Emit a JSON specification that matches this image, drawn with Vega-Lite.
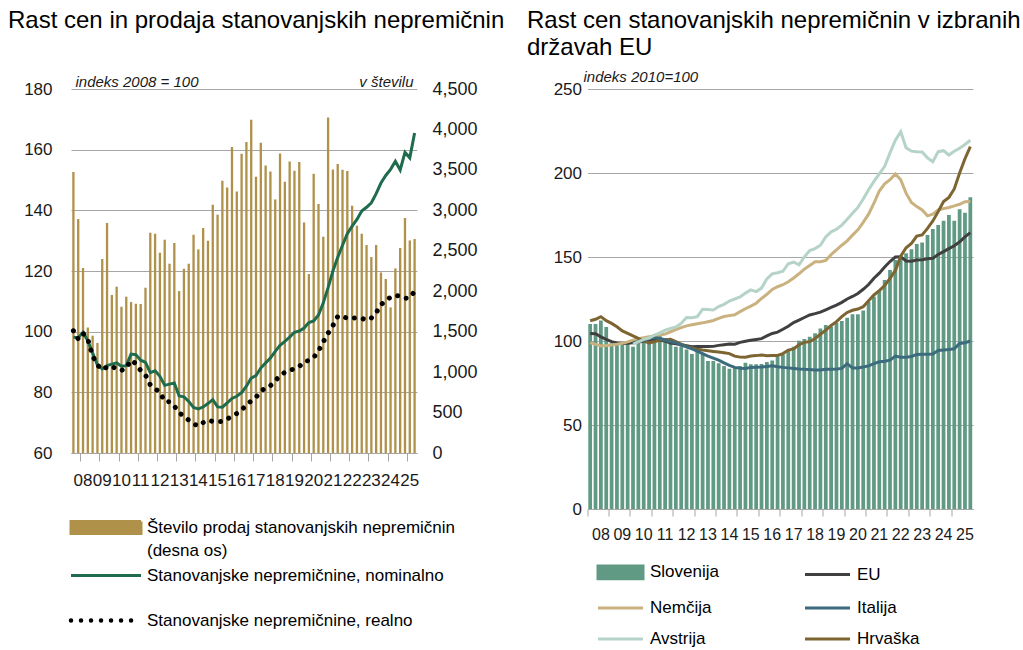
{
  "$schema": "https://vega.github.io/schema/vega-lite/v6.json",
  "padding": {"left": 8, "top": 8, "right": 0, "bottom": 0},
  "background": "white",
  "bounds": "flush",
  "spacing": 170.5,
  "config": {
    "font": "Liberation Sans",
    "view": {"stroke": null},
    "axis": {"labelFont": "Liberation Sans", "titleFont": "Liberation Sans", "labelColor": "#1a1a1a", "titleColor": "#1a1a1a", "titleFontWeight": "normal", "gridColor": "#a6a6a6", "gridWidth": 1, "domainColor": "#a6a6a6", "tickColor": "#a6a6a6"},
    "title": {"font": "Liberation Sans", "fontSize": 24, "fontWeight": "normal", "color": "#000000", "anchor": "start", "frame": "group"},
    "legend": {"labelFont": "Liberation Sans", "labelColor": "#000000", "labelFontSize": 17, "labelLimit": 500, "padding": 0}
  },
  "resolve": {"scale": {"color": "independent"}, "legend": {"color": "independent"}},
  "datasets": {
    "left": [
      {"q":"2008Q1","prodaja":3473,"nominalno":98.2,"realno":100.3},
      {"q":"2008Q2","prodaja":2892,"nominalno":98.0,"realno":97.6},
      {"q":"2008Q3","prodaja":2287,"nominalno":99.8,"realno":99.5},
      {"q":"2008Q4","prodaja":1550,"nominalno":97.0,"realno":97.5},
      {"q":"2009Q1","prodaja":1450,"nominalno":93.0,"realno":92},
      {"q":"2009Q2","prodaja":1360,"nominalno":89.0,"realno":89},
      {"q":"2009Q3","prodaja":2398,"nominalno":87.7,"realno":87.5},
      {"q":"2009Q4","prodaja":2843,"nominalno":88.8,"realno":88.3},
      {"q":"2010Q1","prodaja":1953,"nominalno":89.3,"realno":88.7},
      {"q":"2010Q2","prodaja":2056,"nominalno":89.7,"realno":87.5},
      {"q":"2010Q3","prodaja":1808,"nominalno":88.6,"realno":87.2},
      {"q":"2010Q4","prodaja":1932,"nominalno":88.8,"realno":88},
      {"q":"2011Q1","prodaja":1866,"nominalno":92.6,"realno":90.6},
      {"q":"2011Q2","prodaja":1845,"nominalno":92.4,"realno":89.5},
      {"q":"2011Q3","prodaja":1842,"nominalno":90.6,"realno":87.2},
      {"q":"2011Q4","prodaja":2043,"nominalno":89.9,"realno":85.7},
      {"q":"2012Q1","prodaja":2723,"nominalno":86.5,"realno":82.5},
      {"q":"2012Q2","prodaja":2711,"nominalno":87.1,"realno":81.2},
      {"q":"2012Q3","prodaja":2476,"nominalno":85.3,"realno":80},
      {"q":"2012Q4","prodaja":2637,"nominalno":82.3,"realno":77},
      {"q":"2013Q1","prodaja":2340,"nominalno":82.7,"realno":76.9},
      {"q":"2013Q2","prodaja":2596,"nominalno":83.1,"realno":75.5},
      {"q":"2013Q3","prodaja":2002,"nominalno":78.8,"realno":73.2},
      {"q":"2013Q4","prodaja":2278,"nominalno":78.5,"realno":72.2},
      {"q":"2014Q1","prodaja":2340,"nominalno":77.0,"realno":70.8},
      {"q":"2014Q2","prodaja":2698,"nominalno":75.0,"realno":69.6},
      {"q":"2014Q3","prodaja":2517,"nominalno":74.5,"realno":68.9},
      {"q":"2014Q4","prodaja":2781,"nominalno":75.2,"realno":70},
      {"q":"2015Q1","prodaja":2624,"nominalno":76.3,"realno":70.8},
      {"q":"2015Q2","prodaja":3069,"nominalno":77.6,"realno":70.4},
      {"q":"2015Q3","prodaja":2946,"nominalno":75.2,"realno":70.3},
      {"q":"2015Q4","prodaja":3366,"nominalno":75.1,"realno":70.4},
      {"q":"2016Q1","prodaja":3283,"nominalno":76.5,"realno":71.2},
      {"q":"2016Q2","prodaja":3782,"nominalno":78.0,"realno":72.2},
      {"q":"2016Q3","prodaja":3234,"nominalno":78.7,"realno":73},
      {"q":"2016Q4","prodaja":3700,"nominalno":79.9,"realno":74.2},
      {"q":"2017Q1","prodaja":3844,"nominalno":82.0,"realno":75.8},
      {"q":"2017Q2","prodaja":4120,"nominalno":84.7,"realno":77.2},
      {"q":"2017Q3","prodaja":3415,"nominalno":85.5,"realno":78.4},
      {"q":"2017Q4","prodaja":3836,"nominalno":88.0,"realno":80.3},
      {"q":"2018Q1","prodaja":3555,"nominalno":89.7,"realno":81.6},
      {"q":"2018Q2","prodaja":3481,"nominalno":91.3,"realno":82.2},
      {"q":"2018Q3","prodaja":3135,"nominalno":93.5,"realno":83.8},
      {"q":"2018Q4","prodaja":3703,"nominalno":95.5,"realno":85.5},
      {"q":"2019Q1","prodaja":3354,"nominalno":96.8,"realno":86.6},
      {"q":"2019Q2","prodaja":3605,"nominalno":98.2,"realno":87.2},
      {"q":"2019Q3","prodaja":3490,"nominalno":99.8,"realno":87.8},
      {"q":"2019Q4","prodaja":3597,"nominalno":100.2,"realno":88.5},
      {"q":"2020Q1","prodaja":2850,"nominalno":101.2,"realno":90.1},
      {"q":"2020Q2","prodaja":2212,"nominalno":103.0,"realno":90.5},
      {"q":"2020Q3","prodaja":3452,"nominalno":103.5,"realno":91.5},
      {"q":"2020Q4","prodaja":3078,"nominalno":105.5,"realno":93.6},
      {"q":"2021Q1","prodaja":2674,"nominalno":109.5,"realno":96.6},
      {"q":"2021Q2","prodaja":4148,"nominalno":114.5,"realno":99.5},
      {"q":"2021Q3","prodaja":3505,"nominalno":120.0,"realno":102},
      {"q":"2021Q4","prodaja":3572,"nominalno":124.5,"realno":105},
      {"q":"2022Q1","prodaja":3502,"nominalno":128.5,"realno":105.2},
      {"q":"2022Q2","prodaja":3486,"nominalno":132.3,"realno":104.3},
      {"q":"2022Q3","prodaja":3057,"nominalno":134.8,"realno":104.4},
      {"q":"2022Q4","prodaja":2810,"nominalno":137.0,"realno":104.6},
      {"q":"2023Q1","prodaja":2711,"nominalno":139.8,"realno":104.4},
      {"q":"2023Q2","prodaja":2571,"nominalno":141.0,"realno":103.8},
      {"q":"2023Q3","prodaja":2423,"nominalno":142.5,"realno":104.5},
      {"q":"2023Q4","prodaja":2571,"nominalno":145.5,"realno":106.2},
      {"q":"2024Q1","prodaja":2232,"nominalno":149.0,"realno":108.9},
      {"q":"2024Q2","prodaja":2151,"nominalno":151.5,"realno":110.2},
      {"q":"2024Q3","prodaja":1800,"nominalno":153.5,"realno":111.4},
      {"q":"2024Q4","prodaja":2282,"nominalno":156.2,"realno":112},
      {"q":"2025Q1","prodaja":2534,"nominalno":153.3,"realno":111.7},
      {"q":"2025Q2","prodaja":2905,"nominalno":159.1,"realno":111},
      {"q":"2025Q3","prodaja":2628,"nominalno":157.3,"realno":111.2},
      {"q":"2025Q4","prodaja":2645,"nominalno":165.5,"realno":113.3}
    ],
    "right": [
      {"q":"2008Q1","Slovenija":110.1,"EU":104.5,"Nemčija":99,"Italija":null,"Avstrija":null,"Hrvaška":112.1},
      {"q":"2008Q2","Slovenija":110.1,"EU":104.3,"Nemčija":98,"Italija":null,"Avstrija":null,"Hrvaška":112.9},
      {"q":"2008Q3","Slovenija":112.2,"EU":102.5,"Nemčija":97,"Italija":null,"Avstrija":null,"Hrvaška":114.5},
      {"q":"2008Q4","Slovenija":108.3,"EU":101,"Nemčija":97.3,"Italija":null,"Avstrija":null,"Hrvaška":112.1},
      {"q":"2009Q1","Slovenija":98.6,"EU":99.6,"Nemčija":97.6,"Italija":null,"Avstrija":null,"Hrvaška":110.5},
      {"q":"2009Q2","Slovenija":97.6,"EU":98.8,"Nemčija":98.1,"Italija":null,"Avstrija":null,"Hrvaška":108.5},
      {"q":"2009Q3","Slovenija":98,"EU":98.5,"Nemčija":98.6,"Italija":null,"Avstrija":null,"Hrvaška":106},
      {"q":"2009Q4","Slovenija":98.6,"EU":98.6,"Nemčija":99.5,"Italija":null,"Avstrija":null,"Hrvaška":104.5},
      {"q":"2010Q1","Slovenija":96.6,"EU":99,"Nemčija":100.5,"Italija":99,"Avstrija":98.2,"Hrvaška":103},
      {"q":"2010Q2","Slovenija":98.6,"EU":99.4,"Nemčija":101.3,"Italija":99.6,"Avstrija":99.5,"Hrvaška":101.6},
      {"q":"2010Q3","Slovenija":99.6,"EU":99.8,"Nemčija":102,"Italija":100.3,"Avstrija":101,"Hrvaška":100},
      {"q":"2010Q4","Slovenija":99.6,"EU":100.3,"Nemčija":102.6,"Italija":101.5,"Avstrija":101.8,"Hrvaška":98.9},
      {"q":"2011Q1","Slovenija":104,"EU":100.6,"Nemčija":103,"Italija":102,"Avstrija":103.5,"Hrvaška":99.5},
      {"q":"2011Q2","Slovenija":103,"EU":100.4,"Nemčija":103.6,"Italija":101.6,"Avstrija":104.9,"Hrvaška":100.6},
      {"q":"2011Q3","Slovenija":101.6,"EU":100,"Nemčija":104.2,"Italija":100.6,"Avstrija":106.5,"Hrvaška":100.8},
      {"q":"2011Q4","Slovenija":98.6,"EU":98.8,"Nemčija":105.5,"Italija":99.5,"Avstrija":107.5,"Hrvaška":101},
      {"q":"2012Q1","Slovenija":96.6,"EU":98.4,"Nemčija":106.8,"Italija":99,"Avstrija":108.3,"Hrvaška":99.6},
      {"q":"2012Q2","Slovenija":96.8,"EU":97.8,"Nemčija":108,"Italija":97.6,"Avstrija":110.5,"Hrvaška":98.2},
      {"q":"2012Q3","Slovenija":95,"EU":97.2,"Nemčija":109,"Italija":96.5,"Avstrija":114,"Hrvaška":96.6},
      {"q":"2012Q4","Slovenija":92.3,"EU":96.6,"Nemčija":109.7,"Italija":95.3,"Avstrija":113.8,"Hrvaška":95.8},
      {"q":"2013Q1","Slovenija":94.2,"EU":96.7,"Nemčija":110.3,"Italija":94,"Avstrija":114.5,"Hrvaška":95.1},
      {"q":"2013Q2","Slovenija":92.3,"EU":96.8,"Nemčija":110.8,"Italija":92.5,"Avstrija":118.9,"Hrvaška":94.6},
      {"q":"2013Q3","Slovenija":88.1,"EU":96.7,"Nemčija":111.5,"Italija":91,"Avstrija":118.8,"Hrvaška":94.2},
      {"q":"2013Q4","Slovenija":88.1,"EU":96.8,"Nemčija":112.2,"Italija":89.8,"Avstrija":118.5,"Hrvaška":93.8},
      {"q":"2014Q1","Slovenija":86.7,"EU":97.4,"Nemčija":113.5,"Italija":88.6,"Avstrija":120.5,"Hrvaška":93.4},
      {"q":"2014Q2","Slovenija":85.1,"EU":97.8,"Nemčija":114.6,"Italija":87,"Avstrija":121.8,"Hrvaška":93},
      {"q":"2014Q3","Slovenija":83.5,"EU":98.2,"Nemčija":115.1,"Italija":85.5,"Avstrija":123.8,"Hrvaška":92.5},
      {"q":"2014Q4","Slovenija":84.3,"EU":98.1,"Nemčija":115.6,"Italija":84.3,"Avstrija":125,"Hrvaška":91},
      {"q":"2015Q1","Slovenija":85.1,"EU":99.2,"Nemčija":117.5,"Italija":83.8,"Avstrija":126.2,"Hrvaška":90.4},
      {"q":"2015Q2","Slovenija":87.1,"EU":99.8,"Nemčija":119.2,"Italija":83.7,"Avstrija":128.5,"Hrvaška":90.3},
      {"q":"2015Q3","Slovenija":86.1,"EU":100.4,"Nemčija":120.8,"Italija":84.3,"Avstrija":130.4,"Hrvaška":91.1},
      {"q":"2015Q4","Slovenija":86.1,"EU":100.9,"Nemčija":122.5,"Italija":84.4,"Avstrija":129.4,"Hrvaška":91.3},
      {"q":"2016Q1","Slovenija":86.3,"EU":101.4,"Nemčija":125.3,"Italija":84.5,"Avstrija":131.5,"Hrvaška":91.7},
      {"q":"2016Q2","Slovenija":87.5,"EU":103,"Nemčija":127.8,"Italija":84.8,"Avstrija":137,"Hrvaška":91.2},
      {"q":"2016Q3","Slovenija":88.4,"EU":104.5,"Nemčija":130.7,"Italija":85.2,"Avstrija":140,"Hrvaška":91.3},
      {"q":"2016Q4","Slovenija":90.7,"EU":105.3,"Nemčija":132.3,"Italija":84.7,"Avstrija":140.6,"Hrvaška":91.4},
      {"q":"2017Q1","Slovenija":92,"EU":107,"Nemčija":133.5,"Italija":84.3,"Avstrija":141.5,"Hrvaška":92.5},
      {"q":"2017Q2","Slovenija":94.6,"EU":108.8,"Nemčija":135.3,"Italija":84,"Avstrija":146,"Hrvaška":94.6},
      {"q":"2017Q3","Slovenija":96.6,"EU":111,"Nemčija":137.5,"Italija":83.7,"Avstrija":147,"Hrvaška":95.3},
      {"q":"2017Q4","Slovenija":100.2,"EU":112.4,"Nemčija":140,"Italija":83.4,"Avstrija":145.3,"Hrvaška":97.8},
      {"q":"2018Q1","Slovenija":101.2,"EU":114,"Nemčija":142.8,"Italija":83.2,"Avstrija":150,"Hrvaška":99.2},
      {"q":"2018Q2","Slovenija":102.6,"EU":115.5,"Nemčija":145,"Italija":83.1,"Avstrija":153.8,"Hrvaška":99.6},
      {"q":"2018Q3","Slovenija":104.6,"EU":116.3,"Nemčija":147.2,"Italija":82.8,"Avstrija":155,"Hrvaška":101.5},
      {"q":"2018Q4","Slovenija":107.5,"EU":117.2,"Nemčija":147.2,"Italija":82.7,"Avstrija":157,"Hrvaška":104},
      {"q":"2019Q1","Slovenija":109.5,"EU":118.6,"Nemčija":148,"Italija":83.2,"Avstrija":162,"Hrvaška":106.5},
      {"q":"2019Q2","Slovenija":108.5,"EU":120,"Nemčija":151.4,"Italija":83.2,"Avstrija":165,"Hrvaška":109.2},
      {"q":"2019Q3","Slovenija":110.9,"EU":121.4,"Nemčija":154.2,"Italija":83.4,"Avstrija":166.5,"Hrvaška":111.5},
      {"q":"2019Q4","Slovenija":111.9,"EU":123,"Nemčija":157,"Italija":83.7,"Avstrija":169,"Hrvaška":114.5},
      {"q":"2020Q1","Slovenija":113.9,"EU":125,"Nemčija":159.6,"Italija":86.5,"Avstrija":172.5,"Hrvaška":117},
      {"q":"2020Q2","Slovenija":115.9,"EU":126.5,"Nemčija":163,"Italija":84,"Avstrija":176,"Hrvaška":118.3},
      {"q":"2020Q3","Slovenija":115.9,"EU":128.3,"Nemčija":166.2,"Italija":84,"Avstrija":179.5,"Hrvaška":119},
      {"q":"2020Q4","Slovenija":118.1,"EU":130.8,"Nemčija":170.6,"Italija":84.5,"Avstrija":184.5,"Hrvaška":120.4},
      {"q":"2021Q1","Slovenija":123.4,"EU":133.6,"Nemčija":175.5,"Italija":85.2,"Avstrija":190,"Hrvaška":124},
      {"q":"2021Q2","Slovenija":126.4,"EU":137.4,"Nemčija":182,"Italija":86.5,"Avstrija":195,"Hrvaška":127.4},
      {"q":"2021Q3","Slovenija":130.4,"EU":140.4,"Nemčija":189.3,"Italija":87.6,"Avstrija":199.5,"Hrvaška":130},
      {"q":"2021Q4","Slovenija":136.3,"EU":144,"Nemčija":193.5,"Italija":87.9,"Avstrija":204,"Hrvaška":133},
      {"q":"2022Q1","Slovenija":142.3,"EU":147.3,"Nemčija":196,"Italija":88.6,"Avstrija":212,"Hrvaška":137.3},
      {"q":"2022Q2","Slovenija":148.2,"EU":150,"Nemčija":199.4,"Italija":91,"Avstrija":219.5,"Hrvaška":142},
      {"q":"2022Q3","Slovenija":150.2,"EU":150.2,"Nemčija":196,"Italija":90.3,"Avstrija":224.6,"Hrvaška":150.5},
      {"q":"2022Q4","Slovenija":152.2,"EU":147.6,"Nemčija":188,"Italija":90.3,"Avstrija":215,"Hrvaška":155.5},
      {"q":"2023Q1","Slovenija":154.6,"EU":147.5,"Nemčija":182.5,"Italija":90.8,"Avstrija":213,"Hrvaška":158.1},
      {"q":"2023Q2","Slovenija":157.7,"EU":148.2,"Nemčija":180,"Italija":92,"Avstrija":212.7,"Hrvaška":162.5},
      {"q":"2023Q3","Slovenija":158.7,"EU":148.4,"Nemčija":178,"Italija":92.1,"Avstrija":212.5,"Hrvaška":163.1},
      {"q":"2023Q4","Slovenija":163.1,"EU":149,"Nemčija":174.5,"Italija":92.1,"Avstrija":209,"Hrvaška":167},
      {"q":"2024Q1","Slovenija":166.7,"EU":149.3,"Nemčija":175.5,"Italija":92.2,"Avstrija":206.7,"Hrvaška":171.5},
      {"q":"2024Q2","Slovenija":169,"EU":151.5,"Nemčija":178,"Italija":94.4,"Avstrija":212.7,"Hrvaška":177},
      {"q":"2024Q3","Slovenija":171.6,"EU":153.2,"Nemčija":178.8,"Italija":94.7,"Avstrija":213.3,"Hrvaška":183},
      {"q":"2024Q4","Slovenija":175,"EU":155,"Nemčija":179.5,"Italija":95,"Avstrija":210.7,"Hrvaška":185.5},
      {"q":"2025Q1","Slovenija":171.6,"EU":156.7,"Nemčija":180.4,"Italija":95.4,"Avstrija":213,"Hrvaška":190.5},
      {"q":"2025Q2","Slovenija":178.4,"EU":159,"Nemčija":181.4,"Italija":98.5,"Avstrija":214.7,"Hrvaška":200},
      {"q":"2025Q3","Slovenija":176.4,"EU":162,"Nemčija":182.9,"Italija":99,"Avstrija":217,"Hrvaška":208.5},
      {"q":"2025Q4","Slovenija":185.5,"EU":164.5,"Nemčija":183,"Italija":100,"Avstrija":219.5,"Hrvaška":215.7}
    ]
  },
  "hconcat": [
    {
      "width": 346,
      "height": 364,
      "title": {"text": "Rast cen in prodaja stanovanjskih nepremičnin", "dx": -63, "offset": 41.5},
      "data": {"name": "left"},
      "encoding": {
        "x": {
          "field": "q", "type": "ordinal",
          "scale": {"type": "band", "paddingInner": 0, "paddingOuter": 0},
          "axis": {
            "title": null,
            "values": ["2008Q3","2009Q3","2010Q3","2011Q3","2012Q3","2013Q3","2014Q3","2015Q3","2016Q3","2017Q3","2018Q3","2019Q3","2020Q3","2021Q3","2022Q3","2023Q3","2024Q3","2025Q3"],
            "bandPosition": 0,
            "labelExpr": "substring(datum.value, 2, 4)",
            "labelAngle": 0, "labelOverlap": false, "labelFontSize": 17,
            "tickSize": 8, "labelPadding": 11, "grid": false
          }
        }
      },
      "layer": [
        {
          "mark": {"type": "bar", "width": {"band": 0.48}},
          "encoding": {
            "y": {
              "field": "prodaja", "type": "quantitative",
              "scale": {"domain": [0, 4500], "nice": false},
              "axis": {
                "orient": "right", "values": [0,500,1000,1500,2000,2500,3000,3500,4000,4500], "format": ",.0f",
                "grid": false, "ticks": false, "domain": false, "labelFontSize": 18, "labelPadding": 15,
                "title": "v številu", "titleAngle": 0, "titleAlign": "right", "titleBaseline": "alphabetic",
                "titleX": -4, "titleY": -3, "titleFontSize": 15, "titleFontStyle": "italic"
              }
            },
            "color": {
              "datum": "Število prodaj stanovanjskih nepremičnin", "type": "nominal",
              "scale": {
                "domain": ["Število prodaj stanovanjskih nepremičnin", "Stanovanjske nepremičnine, nominalno", "Stanovanjske nepremičnine, realno"],
                "range": ["#b0914a", "#1f6b4d", "#000000"]
              },
              "legend": {
                "title": null, "orient": "none", "legendX": -1, "legendY": 430, "direction": "vertical",
                "symbolType": "stroke", "symbolSize": 4900, "symbolStrokeWidth": 3,
                "labelFontSize": 17, "labelOffset": 6, "labelLimit": 500, "rowPadding": 7, "padding": 0,
                "encode": {
                  "symbols": {"update": {
                    "x": {"value": 36},
                    "size": {"value": 4900},
                    "shape": {"signal": "datum.index === 0 ? 'M-1,-0.17H1V0.17H-1Z' : 'stroke'"},
                    "fill": {"signal": "datum.index === 0 ? '#b0914a' : 'transparent'"},
                    "stroke": {"signal": "datum.index === 0 ? 'transparent' : (datum.index === 1 ? '#1f6b4d' : '#000000')"},
                    "strokeWidth": {"signal": "datum.index === 2 ? 4.5 : 3"},
                    "strokeDash": {"signal": "datum.index === 2 ? [0.01, 10] : [1, 0]"},
                    "strokeCap": {"signal": "datum.index === 2 ? 'round' : 'butt'"},
                    "opacity": {"value": 1}
                  }},
                  "labels": {"update": {
                    "x": {"value": 77},
                    "lineHeight": {"signal": "datum.index === 0 ? 23 : 20"},
                    "text": {"signal": "datum.index === 0 ? ['Število prodaj stanovanjskih nepremičnin', '(desna os)'] : (datum.index === 1 ? ['Stanovanjske nepremičnine, nominalno', ' '] : datum.label)"}
                  }}
                }
              }
            }
          }
        },
        {
          "layer": [
            {
              "mark": {"type": "line", "strokeWidth": 3},
              "encoding": {
                "y": {
                  "field": "nominalno", "type": "quantitative",
                  "scale": {"domain": [60, 180], "zero": false, "nice": false},
                  "axis": {
                    "orient": "left", "values": [60,80,100,120,140,160,180],
                    "grid": true, "ticks": false, "domain": false, "labelFontSize": 17, "labelPadding": 19,
                    "title": "indeks 2008 = 100", "titleAngle": 0, "titleAlign": "left", "titleBaseline": "alphabetic",
                    "titleX": 4, "titleY": -3, "titleFontSize": 15, "titleFontStyle": "italic"
                  }
                },
                "color": {"datum": "Stanovanjske nepremičnine, nominalno", "type": "nominal"}
              }
            },
            {
              "mark": {"type": "line", "strokeWidth": 5, "strokeDash": [0.01, 9], "strokeCap": "round"},
              "encoding": {
                "y": {"field": "realno", "type": "quantitative"},
                "color": {"datum": "Stanovanjske nepremičnine, realno", "type": "nominal"}
              }
            }
          ]
        }
      ],
      "resolve": {"scale": {"y": "independent"}}
    },
    {
      "width": 385.5,
      "height": 420,
      "title": {"text": ["Rast cen stanovanjskih nepremičnin v izbranih", "državah EU"], "dx": -60.5, "lineHeight": 27, "offset": 9.5},
      "data": {"name": "right"},
      "encoding": {
        "x": {
          "field": "q", "type": "ordinal",
          "scale": {"type": "band", "paddingInner": 0, "paddingOuter": 0},
          "axis": {
            "title": null,
            "values": ["2008Q1","2009Q1","2010Q1","2011Q1","2012Q1","2013Q1","2014Q1","2015Q1","2016Q1","2017Q1","2018Q1","2019Q1","2020Q1","2021Q1","2022Q1","2023Q1","2024Q1","2025Q1"],
            "bandPosition": 0, "labelOffset": 10.7,
            "labelExpr": "substring(datum.value, 2, 4)",
            "labelAngle": 0, "labelOverlap": false, "labelFontSize": 16,
            "tickSize": 7, "labelPadding": 10, "grid": false
          }
        }
      },
      "layer": [
        {
          "mark": {"type": "bar", "width": {"band": 0.7}},
          "encoding": {
            "y": {
              "field": "Slovenija", "type": "quantitative",
              "scale": {"domain": [0, 250], "nice": false},
              "axis": {
                "orient": "left", "values": [0,50,100,150,200,250],
                "grid": true, "ticks": false, "domain": false, "labelFontSize": 17, "labelPadding": 6,
                "title": "indeks 2010=100", "titleAngle": 0, "titleAlign": "left", "titleBaseline": "alphabetic",
                "titleX": -4.5, "titleY": -8, "titleFontSize": 15, "titleFontStyle": "italic"
              }
            },
            "color": {
              "datum": "Slovenija", "type": "nominal",
              "scale": {
                "domain": ["Slovenija", "EU", "Nemčija", "Italija", "Avstrija", "Hrvaška"],
                "range": ["#609a84", "#404040", "#c9b27f", "#3d6b7e", "#b5d3c6", "#7d6532"]
              },
              "legend": {
                "title": null, "orient": "none", "legendX": 10.5, "legendY": 473, "direction": "horizontal", "columns": 2,
                "symbolType": "stroke", "symbolSize": 100, "symbolStrokeWidth": 3,
                "labelFontSize": 17, "labelOffset": 7, "labelLimit": 300, "columnPadding": 80, "rowPadding": 13, "padding": 0,
                "encode": {
                  "symbols": {"update": {
                    "x": {"value": 22.5},
                    "y": {"value": 10},
                    "size": {"value": 2025},
                    "shape": {"signal": "datum.index === 0 ? 'M-1,-0.28H1V0.28H-1Z' : 'stroke'"},
                    "fill": {"signal": "datum.index === 0 ? '#609a84' : 'transparent'"},
                    "stroke": {"signal": "['transparent','#404040','#c9b27f','#3d6b7e','#b5d3c6','#7d6532'][datum.index]"},
                    "strokeWidth": {"value": 3},
                    "opacity": {"value": 1}
                  }},
                  "labels": {"update": {
                    "x": {"value": 52},
                    "y": {"value": 10}
                  }}
                }
              }
            }
          }
        },
        {
          "transform": [
            {"fold": ["EU", "Nemčija", "Italija", "Avstrija", "Hrvaška"], "as": ["drzava", "vrednost"]},
            {"filter": "datum.vrednost != null"}
          ],
          "mark": {"type": "line", "strokeWidth": 3},
          "encoding": {
            "y": {"field": "vrednost", "type": "quantitative", "scale": {"domain": [0, 250], "nice": false}},
            "color": {
              "field": "drzava", "type": "nominal",
              "legend": {
                "title": null, "orient": "none", "legendX": 10.5, "legendY": 473, "direction": "horizontal", "columns": 2,
                "symbolType": "stroke", "symbolSize": 100, "symbolStrokeWidth": 3,
                "labelFontSize": 17, "labelOffset": 7, "labelLimit": 300, "columnPadding": 80, "rowPadding": 13, "padding": 0,
                "encode": {
                  "symbols": {"update": {
                    "x": {"value": 22.5},
                    "y": {"value": 10},
                    "size": {"value": 2025},
                    "shape": {"signal": "datum.index === 0 ? 'M-1,-0.28H1V0.28H-1Z' : 'stroke'"},
                    "fill": {"signal": "datum.index === 0 ? '#609a84' : 'transparent'"},
                    "stroke": {"signal": "['transparent','#404040','#c9b27f','#3d6b7e','#b5d3c6','#7d6532'][datum.index]"},
                    "strokeWidth": {"value": 3},
                    "opacity": {"value": 1}
                  }},
                  "labels": {"update": {
                    "x": {"value": 52},
                    "y": {"value": 10}
                  }}
                }
              }
            }
          }
        }
      ]
    }
  ]
}
